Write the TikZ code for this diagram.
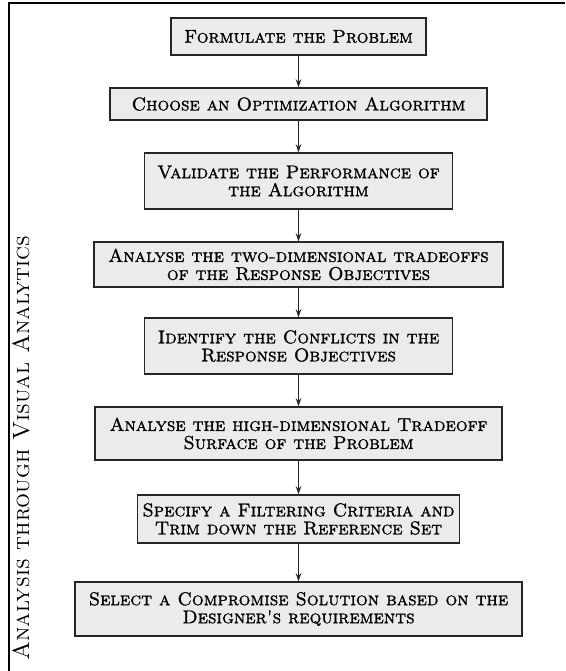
\documentclass[tikz,border=0pt]{standalone}
\usepackage{fontspec}
\usetikzlibrary{arrows.meta}
% versalitas con algo de grosor
\newfontfamily\versal{lmromancaps10-regular.otf}[AutoFakeBold=1.2]
\begin{document}
\begin{tikzpicture}[x=1pt,y=-1pt]
        %colores
        \colorlet{relleno}{black!8}
        \colorlet{borde}{black!85}
        \tikzset{paso/.style={draw=borde,line width=1.5pt,fill=relleno,align=center,inner sep=0pt,
                font=\fontsize{18.5}{18}\versal\bfseries},
            flecha/.style={-{Stealth[length=8pt,width=5.5pt]},line width=0.8pt,borde}}

        \useasboundingbox (0,0) rectangle (565,671);

        % marco, lado izquierdo y superior
        \draw[line width=1.4pt] (9,671) -- (9,3) -- (565,3);

        % titulo vertical
        \node[rotate=90,inner sep=0pt,font=\fontsize{23.5}{26}\versal] (titulo) at (21,448) {Analysis through Visual Analytics};

        % cajas de los pasos
        \foreach \n/\y/\w/\h/\txt in {
            1/36.5/255/37/{Formulate the Problem},
            2/104/377/32/{Choose an Optimization Algorithm},
            3/181/308/56/{Validate the Performance of\\the Algorithm},
            4/264.5/409/45/{Analyse the two-dimensional tradeoffs\\of the Response Objectives},
            5/346/308/56/{Identify the Conflicts in the\\Response Objectives},
            6/433.5/407/53/{Analyse the high-dimensional Tradeoff\\Surface of the Problem},
            7/519/322/48/{Specify a Filtering Criteria and\\Trim down the Reference Set},
            8/609/447/54/{Select a Compromise Solution based on the\\Designer's requirements}}
            \node[paso,minimum width=\w pt,minimum height=\h pt] (c\n) at (298.5,\y) {\txt};

        % flechas entre pasos
        \foreach \a/\b in {1/2,2/3,3/4,4/5,5/6,6/7,7/8}
            \draw[flecha] (c\a) -- (c\b);
    \end{tikzpicture}
\end{document}
